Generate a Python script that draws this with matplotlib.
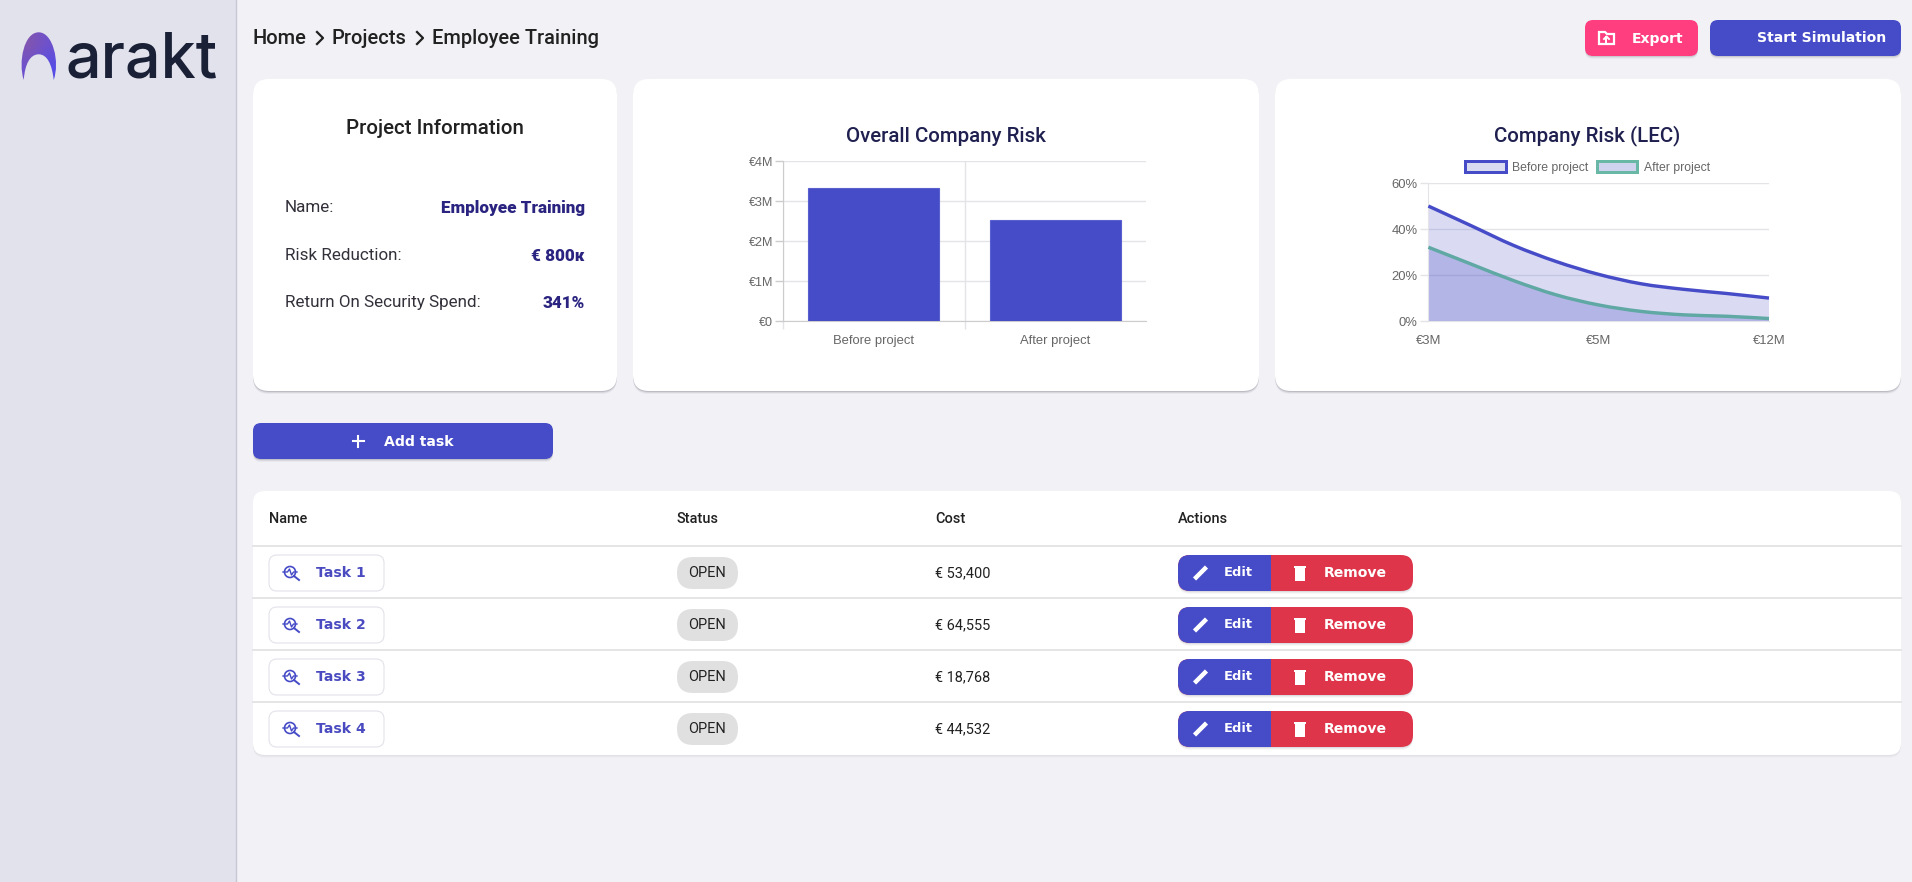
import matplotlib
matplotlib.use('Agg')
import matplotlib.pyplot as plt
from matplotlib.patches import FancyBboxPatch, PathPatch, Patch, Circle, Rectangle, Polygon
from matplotlib.path import Path
from matplotlib.ticker import FuncFormatter
import numpy as np

W, H = 1912, 882

# Data
bar_labels = ['Before project', 'After project']
bar_values = [3.33, 2.53]
bar_ticks = [0, 1, 2, 3, 4]

lec_before = [50.1, 41.6, 33.0, 26.0, 20.4, 16.3, 13.9, 12.1, 10.1]
lec_after = [32.2, 24.9, 17.7, 11.5, 7.1, 4.3, 2.8, 2.2, 1.2]
lec_xpos = [0, 4, 8]
lec_xlabels = ['€3M', '€5M', '€12M']
lec_yticks = [0, 20, 40, 60]

info_labels = ['Name:', 'Risk Reduction:', 'Return On Security Spend:']
info_values = ['Employee Training', '€ 800ᴋ', '341%']

task_names = ['Task 1', 'Task 2', 'Task 3', 'Task 4']
task_status = ['OPEN', 'OPEN', 'OPEN', 'OPEN']
task_costs = ['€ 53,400', '€ 64,555', '€ 18,768', '€ 44,532']
table_heads = ['Name', 'Status', 'Cost', 'Actions']

# Colours
BG = '#f1f1f6'
SIDE = '#e1e2ec'
BLUE = '#464bc7'
RED = '#de354b'
PINK = '#ff3e80'
TEAL = '#5fa8a3'
NAVY = '#1f2050'
INK = '#212121'
GRID = '#e4e4e8'
TICK = '#666666'

ROBOTO = ['Roboto', 'DejaVu Sans']
plt.rcParams['font.family'] = ROBOTO


def px(v):
    return v * 72 / 100


fig = plt.figure(figsize=(W / 100, H / 100), dpi=100, facecolor=BG)
bg = fig.add_axes([0, 0, 1, 1])
bg.set_xlim(0, W)
bg.set_ylim(H, 0)
bg.axis('off')


def box(x0, y0, x1, y1, r, color, shadow=0.0, **kw):
    if shadow:
        for off, a in ((3, shadow * 0.35), (2, shadow * 0.6), (1, shadow)):
            bg.add_patch(FancyBboxPatch((x0 + r, y0 + r + off), x1 - x0 - 2 * r, y1 - y0 - 2 * r,
                                        boxstyle=f'round,pad={r},rounding_size={r}',
                                        fc='#202030', ec='none', alpha=a))
    bg.add_patch(FancyBboxPatch((x0 + r, y0 + r), x1 - x0 - 2 * r, y1 - y0 - 2 * r,
                                boxstyle=f'round,pad={r},rounding_size={r}',
                                fc=color, ec=kw.get('ec', 'none'), lw=kw.get('lw', 0)))


def label(x, y, s, size, color=INK, ha='left', weight='normal', family=None, va='center'):
    bg.text(x, y, s, fontsize=px(size), color=color, ha=ha, va=va, weight=weight,
            family=family if family else ROBOTO)


def chip_text(x, y, s, color='white', ha='left', size=14):
    # wide bold face stands in for the letter-spaced button labels
    label(x, y, s, size, color=color, ha=ha, weight='bold', family=['DejaVu Sans'])


def smooth_path(xs, ys):
    pts = np.column_stack([xs, ys])
    verts = [pts[0]]
    codes = [Path.MOVETO]
    for i in range(len(pts) - 1):
        p0 = pts[max(i - 1, 0)]
        p1, p2 = pts[i], pts[i + 1]
        p3 = pts[min(i + 2, len(pts) - 1)]
        verts += [p1 + (p2 - p0) / 6, p2 - (p3 - p1) / 6, p2]
        codes += [Path.CURVE4] * 3
    return verts, codes


# Sidebar and logo
bg.add_patch(Rectangle((0, 0), 236, H, fc=SIDE, ec='none'))
bg.plot([236.5, 236.5], [0, H], color='#c6c7d2', lw=1)
logo = Path([(23.7, 80), (18, 62), (24, 32.3), (38.7, 32.3), (53, 32.3), (60, 62), (53.7, 80),
             (52, 64), (47, 54.3), (38.7, 54.3), (30, 54.3), (25, 64), (23.7, 80), (23.7, 80)],
            [Path.MOVETO] + [Path.CURVE4] * 12 + [Path.CLOSEPOLY])
grad = bg.imshow([[[0.50, 0.33, 0.70], [0.43, 0.32, 0.80]], [[0.43, 0.32, 0.80], [0.34, 0.30, 0.90]]],
                 extent=(21, 57, 80, 32), aspect='auto', interpolation='bilinear', zorder=2)
grad.set_clip_path(PathPatch(logo, transform=bg.transData))
bg.set_xlim(0, W)
bg.set_ylim(H, 0)
label(66, 77, 'arakt', 63, color='#1a2036', family=['Inter', 'DejaVu Sans'], va='baseline', weight='medium')

# Breadcrumb
label(253, 38, 'Home', 20, weight='medium')
label(332, 38, 'Projects', 20, weight='medium')
label(432, 38, 'Employee Training', 20, weight='medium')
for cx in (320, 420):
    bg.plot([cx - 3, cx + 3, cx - 3], [32, 38, 44], color=INK, lw=1.6)

# Top buttons
box(1585, 20, 1698, 56, 8, PINK, shadow=0.10)
box(1710, 20, 1901, 56, 8, BLUE, shadow=0.10)
chip_text(1632, 38.5, 'Export')
chip_text(1757, 38.5, 'Start Simulation')
bg.add_patch(Polygon([(1599, 32), (1605, 32), (1607, 34), (1614, 34), (1614, 44), (1599, 44)],
                     closed=True, fc='none', ec='white', lw=1.6))
bg.plot([1606.5, 1606.5], [42, 37], color='white', lw=1.4)
bg.plot([1604, 1606.5, 1609], [39, 36.5, 39], color='white', lw=1.4)

# Cards
for x0, x1 in ((253, 617), (633, 1259), (1275, 1901)):
    box(x0, 79, x1, 391, 16, 'white', shadow=0.14)

# Project information
label(435, 128, 'Project Information', 20.5, ha='center', weight='medium')
for y, name, val in zip((208, 256, 303), info_labels, info_values):
    label(285, y, name, 17, color='#33303a')
    label(585, y, val, 17, color='#2a2480', ha='right', weight='black')

# Bar chart
label(946, 136.5, 'Overall Company Risk', 20.5, color=NAVY, ha='center', weight='medium')
ax = fig.add_axes([783 / W, 1 - 321.3 / H, (1146 - 783) / W, 160 / H])
ax.patch.set_alpha(0)
ax.bar(range(len(bar_values)), bar_values, width=0.72, color=BLUE, edgecolor='#5a5fd0', linewidth=0.8, zorder=3)
ax.set_xlim(-0.5, 1.5)
ax.set_ylim(0, 4)
ax.set_yticks(bar_ticks)
ax.yaxis.set_major_formatter(FuncFormatter(lambda v, p: '€0' if v == 0 else f'€{v:.0f}M'))
ax.set_xticks(range(len(bar_labels)), bar_labels)
ax.set_xticks([-0.5, 0.5], minor=True)
ax.tick_params(axis='x', which='major', length=0, pad=px(14), labelsize=px(13), labelcolor=TICK)
ax.tick_params(axis='x', which='minor', length=px(8), color=GRID, width=1)
ax.tick_params(axis='y', length=px(8), color='#cccccc', width=1, pad=px(2), labelsize=px(12.5), labelcolor=TICK)
ax.grid(axis='y', color=GRID, lw=1, zorder=0)
ax.grid(axis='x', which='minor', color=GRID, lw=1, zorder=0)
for lab in ax.get_xticklabels() + ax.get_yticklabels():
    lab.set_family(['Liberation Sans'])
for side in ('top', 'right'):
    ax.spines[side].set_visible(False)
for side in ('left', 'bottom'):
    ax.spines[side].set_color('#cccccc')

# LEC chart
label(1587.5, 136, 'Company Risk (LEC)', 20.5, color=NAVY, ha='center', weight='medium')
ax2 = fig.add_axes([1428.4 / W, 1 - 321.3 / H, (1769 - 1428.4) / W, 138 / H])
ax2.patch.set_alpha(0)
xs = np.arange(len(lec_before))
ax2.set_xlim(xs[0], xs[-1])
ax2.set_ylim(0, 60)
for vals, line_c, fill_a in ((lec_before, BLUE, 0.2), (lec_after, TEAL, 0.26)):
    verts, codes = smooth_path(xs, vals)
    area = Path(verts + [(xs[-1], 0), (xs[0], 0), (xs[0], vals[0])],
                codes + [Path.LINETO, Path.LINETO, Path.CLOSEPOLY])
    ax2.add_patch(PathPatch(area, fc=(70 / 255, 75 / 255, 199 / 255, fill_a), ec='none', zorder=2))
    ax2.add_patch(PathPatch(Path(verts, codes), fc='none', ec=line_c, lw=px(3.4), zorder=3, clip_on=False,
                            capstyle='butt'))
ax2.set_yticks(lec_yticks)
ax2.yaxis.set_major_formatter(FuncFormatter(lambda v, p: f'{v:.0f}%'))
ax2.set_xticks(lec_xpos, lec_xlabels)
ax2.tick_params(axis='x', length=0, pad=px(14), labelsize=px(13), labelcolor=TICK)
ax2.tick_params(axis='y', length=px(8), color=GRID, width=1, pad=px(3), labelsize=px(13), labelcolor=TICK)
ax2.grid(axis='y', color=GRID, lw=1, zorder=0)
for lab in ax2.get_xticklabels() + ax2.get_yticklabels():
    lab.set_family(['Liberation Sans'])
for side in ('top', 'right'):
    ax2.spines[side].set_visible(False)
for side in ('left', 'bottom'):
    ax2.spines[side].set_color(GRID)
ax2.legend(handles=[Patch(fc='#d9dbf0', ec=BLUE, lw=px(3), label=bar_labels[0]),
                    Patch(fc='#d0d3ee', ec='#68b8a5', lw=px(3), label=bar_labels[1])],
           loc='center', bbox_to_anchor=(0.467, 1.115), ncol=2, frameon=False,
           prop={'family': ['Liberation Sans'], 'size': px(12.3)}, labelcolor=TICK,
           handlelength=3.3, handleheight=1.0, handletextpad=0.5, columnspacing=0.7, borderpad=0, borderaxespad=0)

# Add task button
box(253, 423, 553, 459, 8, BLUE, shadow=0.12)
bg.plot([353, 364], [441, 441], color='white', lw=1.5)
bg.plot([358.5, 358.5], [435.5, 446.5], color='white', lw=1.5)
chip_text(384, 442, 'Add task')

# Table
box(253, 491, 1901, 755, 12, 'white', shadow=0.04)
for x, head in zip((269, 677, 935, 1178), table_heads):
    label(x, 519, head, 14.5, weight='medium')
for y in (546, 598, 650, 702):
    bg.plot([253, 1901], [y, y], color='#e0e0e0', lw=1.2)

for i, (name, status, cost) in enumerate(zip(task_names, task_status, task_costs)):
    top = 555 + 52 * i
    mid = top + 18
    box(269, top, 384, top + 36, 8, 'white', ec='#e2e2ea', lw=0.8)
    bg.add_patch(Circle((290, mid - 1), 5.5, fc='none', ec=BLUE, lw=1.2))
    bg.plot([294, 299], [mid + 3, mid + 7], color=BLUE, lw=1.4)
    bg.plot([283, 287.5, 289.5, 291.5, 293.5, 297], [mid - 1, mid - 1, mid - 4, mid + 2, mid - 1, mid - 1],
            color=BLUE, lw=1)
    chip_text(316, mid, name, color='#4a4bc0')
    box(677, top + 2, 738, top + 34, 16, '#e0e0e0')
    label(707.5, mid, status, 14.5, ha='center')
    label(935, mid, cost, 14.5)
    # edit and remove pair
    box(1178, top, 1413, top + 36, 12, RED, shadow=0.08)
    bg.add_patch(FancyBboxPatch((1190, top + 12), 81 - 12, 12, boxstyle='round,pad=12,rounding_size=12',
                                fc=BLUE, ec='none'))
    bg.add_patch(Rectangle((1225, top), 46, 36, fc=BLUE, ec='none'))
    bg.plot([1194.5, 1206.5], [mid + 6, mid - 6], color='white', lw=3.2, solid_capstyle='butt')
    bg.add_patch(Rectangle((1295.5, mid - 5), 10, 13, fc='white', ec='none'))
    bg.add_patch(Rectangle((1294.5, mid - 7.5), 12, 2, fc='white', ec='none'))
    chip_text(1224, mid - 1, 'Edit', size=13)
    chip_text(1324, mid, 'Remove')

fig.savefig('out.png', dpi=100, facecolor=BG)
